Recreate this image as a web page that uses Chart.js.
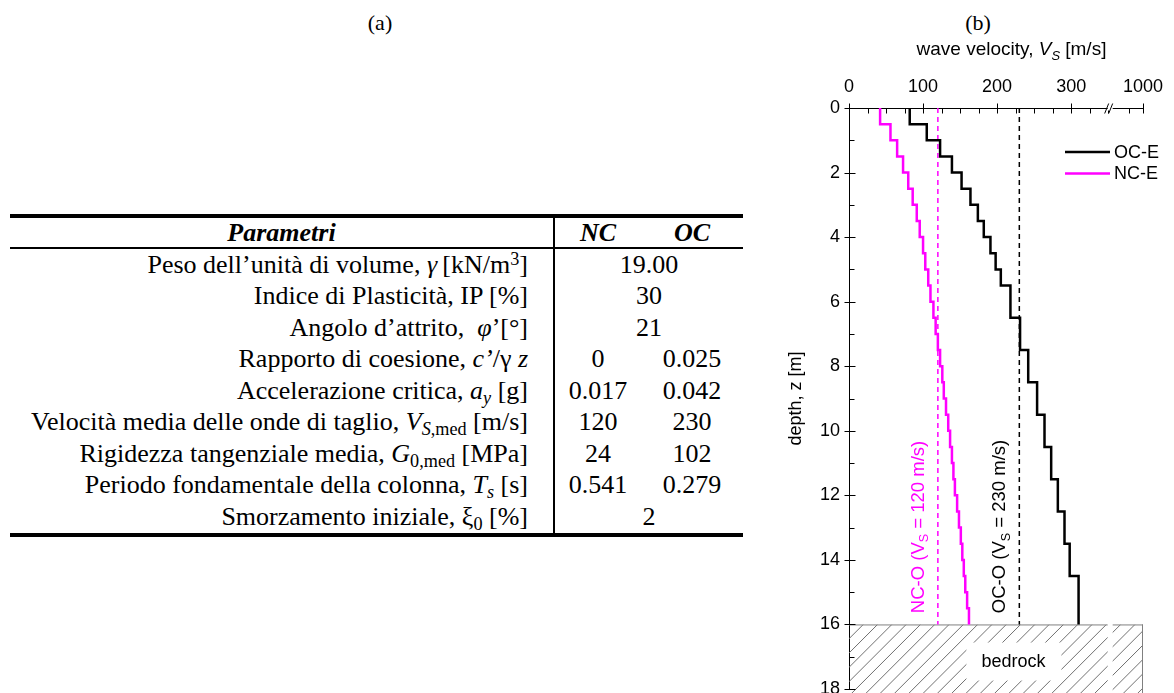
<!DOCTYPE html>
<html lang="it">
<head>
  <meta charset="UTF-8" />
  <title>Parametri e profilo di velocità</title>
  <script src="https://cdn.jsdelivr.net/npm/chart.js"></script>
  <style>
    * { box-sizing: border-box; }

    body {
      margin: 0;
      background: #fff;
    }

    .page {
      position: relative;
      width: 1174px;
      height: 693px;
      overflow: hidden;
      font-family: 'Liberation Serif', 'Times New Roman', serif;
      color: #000;
    }

    .tag {
      position: absolute;
      top: 10px;
      font-size: 22px;
      line-height: 26px;
      transform: translateX(-50%);
    }

    table.params {
      position: absolute;
      left: 10px;
      top: 214px;
      width: 733px;
      border-collapse: separate;
      border-spacing: 0;
      border-top: 4px solid #000;
      border-bottom: 4px solid #000;
      font-size: 26px;
      table-layout: fixed;
    }

    table.params th,
    table.params td {
      padding: 0;
      text-align: center;
      vertical-align: middle;
      line-height: 28px;
      white-space: nowrap;
    }

    table.params th {
      height: 31px;
      font-style: italic;
      font-weight: bold;
      border-bottom: 2px solid #000;
    }

    table.params td { height: 31.5px; }

    table.params .name { border-right: 2px solid #000; }
    table.params td.name { text-align: right; padding-right: 25px; }

    sub, sup { font-size: 70%; line-height: 0; }
    sub { vertical-align: -0.25em; }
    sup { vertical-align: 0.45em; }

    #vsChart {
      position: absolute;
      left: 780px;
      top: 0;
    }
  </style>
</head>

<body>
  <div class="page">
    <div class="tag" style="left:380px">(a)</div>
    <div class="tag" style="left:978px">(b)</div>

    <table class="params" id="params">
      <colgroup>
        <col style="width:545px">
        <col style="width:86px">
        <col style="width:102px">
      </colgroup>
      <tr><th class="name">Parametri</th><th>NC</th><th>OC</th></tr>
    </table>

    <canvas id="vsChart" width="394" height="693"></canvas>
  </div>

  <script>
    // table (a): parameter names, NC and OC values (null OC = same value for both)
    const paramNames = [
      'Peso dell’unità di volume, <i>γ</i>&thinsp;[kN/m<sup>3</sup>]',
      'Indice di Plasticità, IP [%]',
      'Angolo d’attrito, &nbsp;<i>φ</i>’[°]',
      'Rapporto di coesione, <i>c’</i>/γ <i>z</i>',
      'Accelerazione critica, <i>a<sub>y</sub></i> [g]',
      'Velocità media delle onde di taglio, <i>V</i><sub><i>S</i>,med</sub> [m/s]',
      'Rigidezza tangenziale media, <i>G</i><sub>0,med</sub> [MPa]',
      'Periodo fondamentale della colonna, <i>T<sub>s</sub></i> [s]',
      'Smorzamento iniziale, ξ<sub>0</sub> [%]'
    ];
    const ncValues = ['19.00', '30', '21', '0', '0.017', '120', '24', '0.541', '2'];
    const ocValues = [null, null, null, '0.025', '0.042', '230', '102', '0.279', null];

    // chart (b): shear wave velocity profiles, depth boundaries of the layers [m] and Vs [m/s]
    const ocDepth = [0, 0.5, 1, 1.5, 2, 2.5, 3, 3.5, 4, 4.5, 5, 5.5, 6.5, 7.5, 8.5, 9.5, 10.5, 11.5, 12.5, 13.5, 14.5, 16];
    const ocVs = [82, 105, 123, 139, 152, 164, 174, 182, 191, 198, 205, 218, 231, 242, 254, 264, 273, 282, 291, 298, 310];
    const ncDepth = [0, 0.5, 1, 1.5, 2, 2.5, 3, 3.5, 4, 4.5, 5, 5.5, 6, 6.5, 7, 7.5, 8, 8.5, 9, 9.5, 10, 10.5,
      11, 11.5, 12, 12.5, 13, 13.5, 14, 14.5, 15, 15.5, 16];
    const ncVs = [42, 56, 65, 73, 80, 86, 91.5, 95.5, 100, 103, 107, 110, 114, 117, 120, 123, 126, 128, 131, 134,
      136.5, 139, 141, 143, 146, 148.5, 151, 153, 155, 157, 159.5, 162];
    const meanVs = [120, 230];          // NC-O, OC-O
    const meanNames = ['NC-O', 'OC-O'];
    const bedrockTop = 16;
    const depthMax = 18;
    const xTicks = [0, 100, 200, 300, 1000];

    const SANS = "'Liberation Sans', Arial, sans-serif";
    const MAGENTA = '#ff00ff';

    // build table rows
    const table = document.getElementById('params');
    paramNames.forEach((name, i) => {
      const tr = document.createElement('tr');
      let html = '<td class="name">' + name + '</td>';
      if (ocValues[i] === null) html += '<td colspan="2">' + ncValues[i] + '</td>';
      else html += '<td>' + ncValues[i] + '</td><td>' + ocValues[i] + '</td>';
      tr.innerHTML = html;
      table.appendChild(tr);
    });

    // broken x axis: linear up to the break, then 1000 squeezed in at the end
    const BREAK_AT = 352;
    function axisX(v) {
      return v <= 360 ? v : 360 + (v - 950) * 0.74;
    }

    function stepProfile(depths, vs) {
      const pts = [];
      vs.forEach((v, i) => {
        pts.push({ x: axisX(v), y: depths[i] }, { x: axisX(v), y: depths[i + 1] });
      });
      return pts;
    }

    function meanLine(v) {
      return [{ x: axisX(v), y: 0 }, { x: axisX(v), y: bedrockTop }];
    }

    // text with subscripts, drawn piece by piece
    function richText(ctx, parts, x, y, size, align) {
      const fontOf = p => (p.i ? 'italic ' : '') + (p.sub ? size * 0.68 : size) + 'px ' + SANS;
      const widths = parts.map(p => { ctx.font = fontOf(p); return ctx.measureText(p.t).width; });
      const total = widths.reduce((a, b) => a + b, 0);
      let cx = align === 'center' ? x - total / 2 : x;
      ctx.textAlign = 'left';
      ctx.textBaseline = 'middle';
      parts.forEach((p, k) => {
        ctx.font = fontOf(p);
        ctx.fillText(p.t, cx, y + (p.sub ? size * 0.32 : 0));
        cx += widths[k];
      });
    }

    const decor = {
      id: 'decor',
      beforeDatasetsDraw(chart) {
        const { ctx, scales: { x, y } } = chart;
        const left = x.getPixelForValue(0);
        const right = x.getPixelForValue(axisX(1000));
        const top = y.getPixelForValue(bedrockTop);
        const bottom = y.getPixelForValue(depthMax) + 8;
        ctx.save();
        // hatched bedrock
        ctx.beginPath();
        ctx.rect(left, top, right - left, bottom - top);
        ctx.clip();
        ctx.strokeStyle = '#707070';
        ctx.lineWidth = 1;
        ctx.beginPath();
        const h = bottom - top;
        for (let k = left - h; k < right + 14; k += 14.3) {
          ctx.moveTo(k, bottom);
          ctx.lineTo(k + h, top);
        }
        ctx.stroke();
        ctx.restore();

        ctx.save();
        ctx.strokeStyle = '#808080';
        ctx.lineWidth = 1;
        ctx.beginPath();
        ctx.moveTo(left, top + 0.5);
        ctx.lineTo(right, top + 0.5);
        ctx.moveTo(right - 0.5, top);
        ctx.lineTo(right - 0.5, bottom);
        ctx.stroke();
        // gap at the axis break
        const bx = x.getPixelForValue(BREAK_AT);
        ctx.fillStyle = '#fff';
        ctx.fillRect(bx - 2, top - 1, 5, bottom - top + 2);
        // label box
        const lx = x.getPixelForValue(222);
        const ly = y.getPixelForValue(17.15);
        ctx.fillRect(lx - 47, ly - 19, 95, 38);
        ctx.fillStyle = '#000';
        ctx.font = '18px ' + SANS;
        ctx.textAlign = 'center';
        ctx.textBaseline = 'middle';
        ctx.fillText('bedrock', lx, ly);
        ctx.restore();
      },
      afterDraw(chart) {
        const { ctx, chartArea, scales: { x, y } } = chart;
        ctx.save();
        ctx.strokeStyle = '#000';
        ctx.lineWidth = 1;
        ctx.beginPath();
        // x ticks (major cross the axis, minor inside)
        const ty = Math.round(chartArea.top) + 0.5;
        xTicks.forEach(v => {
          const px = Math.round(x.getPixelForValue(axisX(v))) + 0.5;
          ctx.moveTo(px, ty - 5); ctx.lineTo(px, ty + 5);
        });
        for (let v = 25; v <= 350; v += 25) {
          if (v % 100 === 0) continue;
          const px = Math.round(x.getPixelForValue(v)) + 0.5;
          ctx.moveTo(px, ty); ctx.lineTo(px, ty + 5);
        }
        const px975 = Math.round(x.getPixelForValue(axisX(975))) + 0.5;
        ctx.moveTo(px975, ty); ctx.lineTo(px975, ty + 5);
        // y ticks
        const tx = Math.round(chartArea.left) + 0.5;
        for (let d = 0; d <= depthMax; d++) {
          const py = Math.round(y.getPixelForValue(d)) + 0.5;
          if (d % 2 === 0) { ctx.moveTo(tx - 5, py); ctx.lineTo(tx + 6, py); }
          else { ctx.moveTo(tx, py); ctx.lineTo(tx + 5, py); }
        }
        ctx.stroke();

        // axis break //
        const bx = x.getPixelForValue(BREAK_AT);
        ctx.fillStyle = '#fff';
        ctx.fillRect(bx - 2, ty - 2, 5, 4);
        ctx.beginPath();
        ctx.moveTo(bx - 5, ty + 5); ctx.lineTo(bx - 1, ty - 5);
        ctx.moveTo(bx - 1, ty + 5); ctx.lineTo(bx + 3, ty - 5);
        ctx.stroke();

        // axis title
        ctx.fillStyle = '#000';
        richText(ctx, [{ t: 'wave velocity, ' }, { t: 'V', i: true }, { t: 'S', i: true, sub: true }, { t: ' [m/s]' }],
          (chartArea.left + chart.width) / 2, 50, 19, 'center');

        // legend
        const items = [chart.data.datasets[0], chart.data.datasets[1]];
        items.forEach((ds, k) => {
          const ly = chartArea.top + 44 + k * 21.5;
          ctx.strokeStyle = ds.borderColor;
          ctx.lineWidth = 2.5;
          ctx.beginPath();
          ctx.moveTo(chartArea.right - 78, ly);
          ctx.lineTo(chartArea.right - 33, ly);
          ctx.stroke();
          ctx.fillStyle = '#000';
          ctx.font = '18px ' + SANS;
          ctx.textAlign = 'left';
          ctx.textBaseline = 'middle';
          ctx.fillText(ds.label, chartArea.right - 29, ly + 1);
        });

        // labels along the mean velocity lines
        meanVs.forEach((v, k) => {
          ctx.save();
          ctx.translate(x.getPixelForValue(axisX(v)) - 19, y.getPixelForValue(15.65));
          ctx.rotate(-Math.PI / 2);
          ctx.fillStyle = k === 0 ? MAGENTA : '#000';
          richText(ctx, [{ t: meanNames[k] + ' (V' }, { t: 'S', sub: true }, { t: ' = ' + v + ' m/s)' }], 0, 0, 18.5, 'left');
          ctx.restore();
        });
        ctx.restore();
      }
    };

    new Chart(document.getElementById('vsChart'), {
      type: 'scatter',
      data: {
        datasets: [
          { label: 'OC-E', data: stepProfile(ocDepth, ocVs), borderColor: '#000', borderWidth: 2.5 },
          { label: 'NC-E', data: stepProfile(ncDepth, ncVs), borderColor: MAGENTA, borderWidth: 2.5 },
          { label: 'NC-O', data: meanLine(meanVs[0]), borderColor: MAGENTA, borderWidth: 1.5, borderDash: [5, 4] },
          { label: 'OC-O', data: meanLine(meanVs[1]), borderColor: '#000', borderWidth: 1.5, borderDash: [5, 4] }
        ].map(ds => Object.assign(ds, {
          showLine: true, pointRadius: 0, fill: false, tension: 0,
          borderJoinStyle: 'miter', borderCapStyle: 'butt'
        }))
      },
      options: {
        responsive: false,
        devicePixelRatio: 1,
        animation: false,
        events: [],
        layout: { padding: { left: 0, top: 0, right: 31, bottom: 4 } },
        plugins: {
          legend: { display: false },
          tooltip: { enabled: false }
        },
        scales: {
          x: {
            type: 'linear',
            position: 'top',
            min: 0,
            max: axisX(1000),
            afterBuildTicks: s => { s.ticks = xTicks.map(v => ({ value: axisX(v) })); },
            afterFit: s => { s.height = 108; s.paddingLeft = 0; s.paddingRight = 0; },
            grid: { display: false, drawTicks: true, tickLength: 6 },
            border: { display: true, color: '#000', width: 1 },
            ticks: {
              autoSkip: false,
              maxRotation: 0,
              padding: 4,
              color: '#000',
              font: { family: SANS, size: 18 },
              callback: (value, i) => String(xTicks[i])
            }
          },
          y: {
            type: 'linear',
            reverse: true,
            min: 0,
            max: depthMax,
            afterFit: s => { s.width = 69; s.paddingTop = 0; s.paddingBottom = 0; },
            grid: { display: false, drawTicks: true, tickLength: 6 },
            border: { display: true, color: '#000', width: 1 },
            ticks: {
              stepSize: 2,
              padding: 3,
              color: '#000',
              font: { family: SANS, size: 18 }
            },
            title: {
              display: true,
              text: 'depth, z [m]',
              color: '#000',
              font: { family: SANS, size: 18 },
              padding: { top: 5, bottom: 0 }
            }
          }
        }
      },
      plugins: [decor]
    });
  </script>
</body>

</html>
